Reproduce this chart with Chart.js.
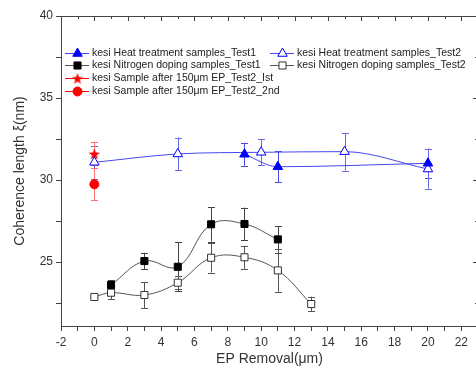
<!DOCTYPE html>
<html lang="en">
<head>
<meta charset="UTF-8">
<title>Coherence length vs EP removal</title>
<script src="https://cdn.jsdelivr.net/npm/chart.js"></script>
<style>
    body { margin: 0; background: #fff; overflow: hidden; }
    .chart-container { width: 490px; height: 373px; }
</style>
</head>
<body>
<div class="chart-container"><canvas id="chart"></canvas></div>
<script>
    // EP removal (um) and coherence length (nm), with +/- error
    const heatTest1X = [9, 11, 20];
    const heatTest1Y = [31.57, 30.81, 31.02];
    const heatTest1Err = [0.7, 0.95, 0.9];

    const heatTest2X = [0, 5, 10, 15, 20];
    const heatTest2Y = [31.08, 31.59, 31.69, 31.73, 30.67];
    const heatTest2Err = [1.0, 1.0, 0.8, 1.15, 1.2];

    const nitroTest1X = [1, 3, 5, 7, 9, 11];
    const nitroTest1Y = [23.6, 25.06, 24.71, 27.3, 27.32, 26.38];
    const nitroTest1Err = [0.3, 0.5, 1.5, 1.05, 1.0, 0.8];

    const nitroTest2X = [0, 1, 3, 5, 7, 9, 11, 13];
    const nitroTest2Y = [22.87, 23.13, 22.99, 23.74, 25.26, 25.29, 24.49, 22.44];
    const nitroTest2Err = [0, 0.4, 0.8, 0.4, 0.9, 0.7, 1.3, 0.45];

    const epFirstX = [0];
    const epFirstY = [31.59];
    const epFirstErr = [0.7];

    const epSecondX = [0];
    const epSecondY = [29.74];
    const epSecondErr = [0.97];

    const xTickLabels = [-2, 0, 2, 4, 6, 8, 10, 12, 14, 16, 18, 20, 22];
    const yTickLabels = [25, 30, 35, 40];

    const toPoints = (xs, ys) => xs.map((x, i) => ({ x: x, y: ys[i] }));

    function makeStar(size, color) {
        const c = document.createElement('canvas');
        c.width = c.height = size;
        const g = c.getContext('2d');
        g.fillStyle = color;
        g.beginPath();
        for (let i = 0; i < 10; i++) {
            const r = i % 2 ? size * 0.2 : size / 2;
            const a = -Math.PI / 2 + i * Math.PI / 5;
            g.lineTo(size / 2 + r * Math.cos(a), size / 2 + 0.5 + r * Math.sin(a));
        }
        g.closePath();
        g.fill();
        return c;
    }

    const BLUE = '#0000ff';
    const BLUE_LINE = '#4646f0';
    const RED = '#ff0000';

    const datasets = [
        {
            label: 'kesi Heat treatment samples_Test1',
            data: toPoints(heatTest1X, heatTest1Y), errors: heatTest1Err,
            borderColor: BLUE_LINE, borderWidth: 1, errColor: '#4a4ae8',
            cubicInterpolationMode: 'monotone',
            pointStyle: 'triangle', pointRadius: 5.5,
            pointBackgroundColor: BLUE, pointBorderColor: BLUE, pointBorderWidth: 1
        },
        {
            label: 'kesi Heat treatment samples_Test2',
            data: toPoints(heatTest2X, heatTest2Y), errors: heatTest2Err,
            borderColor: BLUE_LINE, borderWidth: 1, errColor: '#6a6ae8',
            cubicInterpolationMode: 'monotone',
            pointStyle: 'triangle', pointRadius: 5.5,
            pointBackgroundColor: '#fff', pointBorderColor: BLUE, pointBorderWidth: 1
        },
        {
            label: 'kesi Nitrogen doping samples_Test1',
            data: toPoints(nitroTest1X, nitroTest1Y), errors: nitroTest1Err,
            borderColor: '#555', borderWidth: 1, errColor: '#444',
            pointStyle: 'rect', pointRadius: 5,
            pointBackgroundColor: '#000', pointBorderColor: '#000', pointBorderWidth: 1
        },
        {
            label: 'kesi Nitrogen doping samples_Test2',
            data: toPoints(nitroTest2X, nitroTest2Y), errors: nitroTest2Err,
            borderColor: '#555', borderWidth: 1, errColor: '#555',
            pointStyle: 'rect', pointRadius: 5,
            pointBackgroundColor: '#fff', pointBorderColor: '#333', pointBorderWidth: 1
        },
        {
            label: 'kesi Sample after 150\u03bcm EP_Test2_Ist',
            data: toPoints(epFirstX, epFirstY), errors: epFirstErr,
            borderColor: RED, borderWidth: 1, errColor: '#ff7070', showLine: false,
            pointStyle: makeStar(12, RED), pointRadius: 5,
            pointBackgroundColor: RED, pointBorderColor: RED
        },
        {
            label: 'kesi Sample after 150\u03bcm EP_Test2_2nd',
            data: toPoints(epSecondX, epSecondY), errors: epSecondErr,
            borderColor: RED, borderWidth: 1, errColor: '#ff7070', showLine: false,
            pointStyle: 'circle', pointRadius: 4.5,
            pointBackgroundColor: RED, pointBorderColor: RED, pointBorderWidth: 1
        }
    ];

    const errorBars = {
        id: 'errorBars',
        beforeDatasetsDraw(chart) {
            const { ctx, scales: { x, y } } = chart;
            ctx.save();
            ctx.lineWidth = 1;
            chart.data.datasets.forEach(ds => {
                ctx.strokeStyle = ds.errColor;
                ds.data.forEach((p, i) => {
                    const e = ds.errors[i];
                    if (!e) return;
                    const px = Math.round(x.getPixelForValue(p.x)) + 0.5;
                    const top = y.getPixelForValue(p.y + e);
                    const bot = y.getPixelForValue(p.y - e);
                    ctx.beginPath();
                    ctx.moveTo(px, top); ctx.lineTo(px, bot);
                    ctx.moveTo(px - 3.5, Math.round(top) + 0.5); ctx.lineTo(px + 3.5, Math.round(top) + 0.5);
                    ctx.moveTo(px - 3.5, Math.round(bot) + 0.5); ctx.lineTo(px + 3.5, Math.round(bot) + 0.5);
                    ctx.stroke();
                });
            });
            ctx.restore();
        }
    };

    function drawMarker(ctx, ds, x, y) {
        const style = ds.pointStyle, r = ds.pointRadius;
        if (style instanceof HTMLCanvasElement) {
            ctx.drawImage(style, x - style.width / 2, y - style.height / 2);
            return;
        }
        ctx.fillStyle = ds.pointBackgroundColor;
        ctx.strokeStyle = ds.pointBorderColor;
        ctx.lineWidth = ds.pointBorderWidth || 1;
        ctx.beginPath();
        if (style === 'triangle') {
            for (let k = 0; k < 3; k++) {
                const a = k * 2 * Math.PI / 3;
                ctx.lineTo(x + Math.sin(a) * r, y - Math.cos(a) * r);
            }
            ctx.closePath();
        } else if (style === 'rect') {
            const s = r * Math.SQRT1_2;
            ctx.rect(x - s, y - s, 2 * s, 2 * s);
        } else {
            ctx.arc(x, y, r, 0, Math.PI * 2);
        }
        ctx.fill();
        ctx.stroke();
    }

    // legend sits inside the plot, two columns for the first rows
    const insideLegend = {
        id: 'insideLegend',
        afterDraw(chart) {
            const ctx = chart.ctx;
            const slots = [
                [0, 65, 53], [1, 270, 53],
                [2, 65, 65], [3, 270, 65],
                [4, 65, 78], [5, 65, 91]
            ];
            ctx.save();
            ctx.font = '10.5px "Liberation Sans", Arial, sans-serif';
            ctx.textBaseline = 'middle';
            slots.forEach(([i, lx, ly]) => {
                const ds = chart.data.datasets[i];
                ctx.strokeStyle = ds.borderColor;
                ctx.lineWidth = 1;
                ctx.beginPath();
                ctx.moveTo(lx, ly + 0.5); ctx.lineTo(lx + 24, ly + 0.5);
                ctx.stroke();
                drawMarker(ctx, ds, lx + 12.5, ly + 0.5);
                ctx.fillStyle = '#222';
                ctx.fillText(ds.label, lx + 27, ly + 0.5);
            });
            ctx.restore();
        }
    };

    // top and right frame with inward ticks
    const frame = {
        id: 'frame',
        afterDraw(chart) {
            const { ctx, chartArea: { left, top, right, bottom }, scales: { x, y } } = chart;
            ctx.save();
            ctx.strokeStyle = '#444';
            ctx.lineWidth = 1;
            ctx.beginPath();
            ctx.moveTo(left, top + 0.5); ctx.lineTo(right + 0.5, top + 0.5); ctx.lineTo(right + 0.5, bottom);
            x.ticks.forEach(t => {
                const px = Math.round(x.getPixelForValue(t.value)) + 0.5;
                ctx.moveTo(px, top); ctx.lineTo(px, top + (t.label ? 5 : 3));
            });
            y.ticks.forEach(t => {
                const py = Math.round(y.getPixelForValue(t.value)) + 0.5;
                ctx.moveTo(right, py); ctx.lineTo(right - (t.label ? 5 : 3), py);
            });
            ctx.stroke();
            ctx.restore();
        }
    };

    new Chart(document.getElementById('chart'), {
        type: 'line',
        data: { datasets: datasets },
        options: {
            responsive: true,
            maintainAspectRatio: false,
            animation: false,
            elements: { line: { tension: 0.4 } },
            layout: { padding: { top: 16, right: 12, left: 0, bottom: 0 } },
            plugins: { legend: { display: false }, tooltip: { enabled: false } },
            scales: {
                x: {
                    type: 'linear', min: -2, max: 23,
                    afterFit: s => { s.height = 47; },
                    ticks: {
                        stepSize: 1, autoSkip: false, includeBounds: false, maxRotation: 0, padding: 4,
                        color: '#333', font: { family: '"Liberation Sans", Arial', size: 12 },
                        callback: v => xTickLabels.includes(v) ? String(v) : ''
                    },
                    grid: { drawOnChartArea: false, tickLength: 5, color: '#444' },
                    border: { color: '#444', width: 1 },
                    title: {
                        display: true, text: 'EP Removal(\u03bcm)', color: '#333',
                        font: { family: '"Liberation Sans", Arial', size: 14 },
                        padding: { top: 0, bottom: 5 }
                    }
                },
                y: {
                    type: 'linear', min: 21.1, max: 40,
                    afterFit: s => { s.width = 61; },
                    ticks: {
                        stepSize: 2.5, autoSkip: false, includeBounds: false, padding: 3,
                        color: '#333', font: { family: '"Liberation Sans", Arial', size: 12 },
                        callback: v => yTickLabels.includes(v) ? String(v) : ''
                    },
                    grid: { drawOnChartArea: false, tickLength: 5, color: '#444' },
                    border: { color: '#444', width: 1 },
                    title: {
                        display: true, text: 'Coherence length \u03be(nm)', color: '#333',
                        font: { family: '"Liberation Sans", Arial', size: 14 },
                        padding: { top: 12, bottom: 0 }
                    }
                }
            }
        },
        plugins: [errorBars, frame, insideLegend]
    });
</script>
</body>
</html>
